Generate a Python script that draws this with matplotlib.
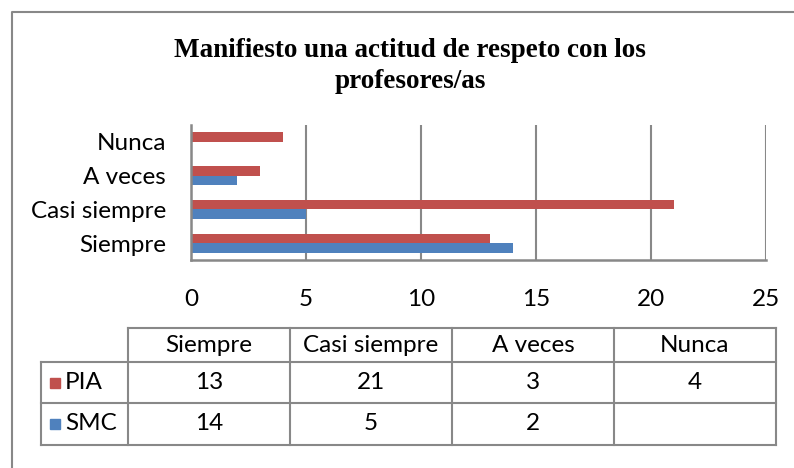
import matplotlib
matplotlib.use("Agg")
import matplotlib.pyplot as plt
from matplotlib.patches import Rectangle
import numpy as np

categories = ["Siempre", "Casi siempre", "A veces", "Nunca"]
pia = [13, 21, 3, 4]
smc = [14, 5, 2, None]
series_names = ["PIA", "SMC"]
x_ticks = [0, 5, 10, 15, 20, 25]
title = "Manifiesto una actitud de respeto con los\nprofesores/as"

RED = "#C0504D"
BLUE = "#4F81BD"
GRAY = "#888888"
W, H = 794, 468

plt.rcParams['font.family'] = ['Lato', 'DejaVu Sans']

fig = plt.figure(figsize=(W / 100, H / 100), dpi=100)

# overlay axes in pixel coords for border, title and table
ov = fig.add_axes([0, 0, 1, 1])
ov.set_xlim(0, W)
ov.set_ylim(H, 0)
ov.axis("off")

# outer chart border (only left and top visible in the crop)
ov.plot([12, 12, W + 5], [H + 5, 12, 12], color=GRAY, lw=1.5, clip_on=False)

ov.text(410, 66, title, ha="center", va="center", fontsize=19.5,
        fontweight="bold", family="Liberation Serif", linespacing=1.27)

# bar chart
ax = fig.add_axes([191 / W, 1 - 260 / H, (766 - 191) / W, (260 - 125) / H])
y = np.arange(len(categories))
h = 0.28
pia_v = np.array(pia, dtype=float)
smc_v = np.array([np.nan if v is None else v for v in smc], dtype=float)
ax.barh(y + h / 2, pia_v, height=h, color=RED, zorder=3)
ax.barh(y - h / 2, np.nan_to_num(smc_v), height=h, color=BLUE, zorder=3)
ax.set_xlim(0, 25)
ax.set_ylim(-0.5, len(categories) - 0.5)
ax.set_xticks(x_ticks)
ax.set_yticks(y)
ax.set_yticklabels(categories)
ax.tick_params(axis="both", length=0, labelsize=17.5)
ax.tick_params(axis="x", pad=21)
ax.tick_params(axis="y", pad=18)
ax.grid(axis="x", color=GRAY, lw=1.5, zorder=0)
for s in ["top", "right"]:
    ax.spines[s].set_visible(False)
for s in ["left", "bottom"]:
    ax.spines[s].set_color(GRAY)
    ax.spines[s].set_linewidth(1.8)
    ax.spines[s].set_zorder(4)

# data table
col_x = [41, 128, 290, 452, 614, 776]
row_y = [328, 362, 403, 445]
lc = dict(color=GRAY, lw=1.5)
ov.plot([col_x[1], col_x[-1]], [row_y[0], row_y[0]], **lc)
for yy in row_y[1:]:
    ov.plot([col_x[0], col_x[-1]], [yy, yy], **lc)
ov.plot([col_x[0], col_x[0]], [row_y[1], row_y[-1]], **lc)
for xx in col_x[1:]:
    ov.plot([xx, xx], [row_y[0], row_y[-1]], **lc)

for i, c in enumerate(categories):
    ov.text((col_x[i + 1] + col_x[i + 2]) / 2, (row_y[0] + row_y[1]) / 2, c,
            ha="center", va="center", fontsize=17.5)

rows = [pia, smc]
colors = [RED, BLUE]
for r, (name, vals, col) in enumerate(zip(series_names, rows, colors)):
    yc = (row_y[r + 1] + row_y[r + 2]) / 2
    ov.add_patch(Rectangle((50, yc - 5), 10, 10, color=col))
    ov.text(65, yc, name, ha="left", va="center", fontsize=17.5)
    for i, v in enumerate(vals):
        if v is None:
            continue
        ov.text((col_x[i + 1] + col_x[i + 2]) / 2, yc, str(v),
                ha="center", va="center", fontsize=17.5)

fig.savefig("out.png", dpi=100)
